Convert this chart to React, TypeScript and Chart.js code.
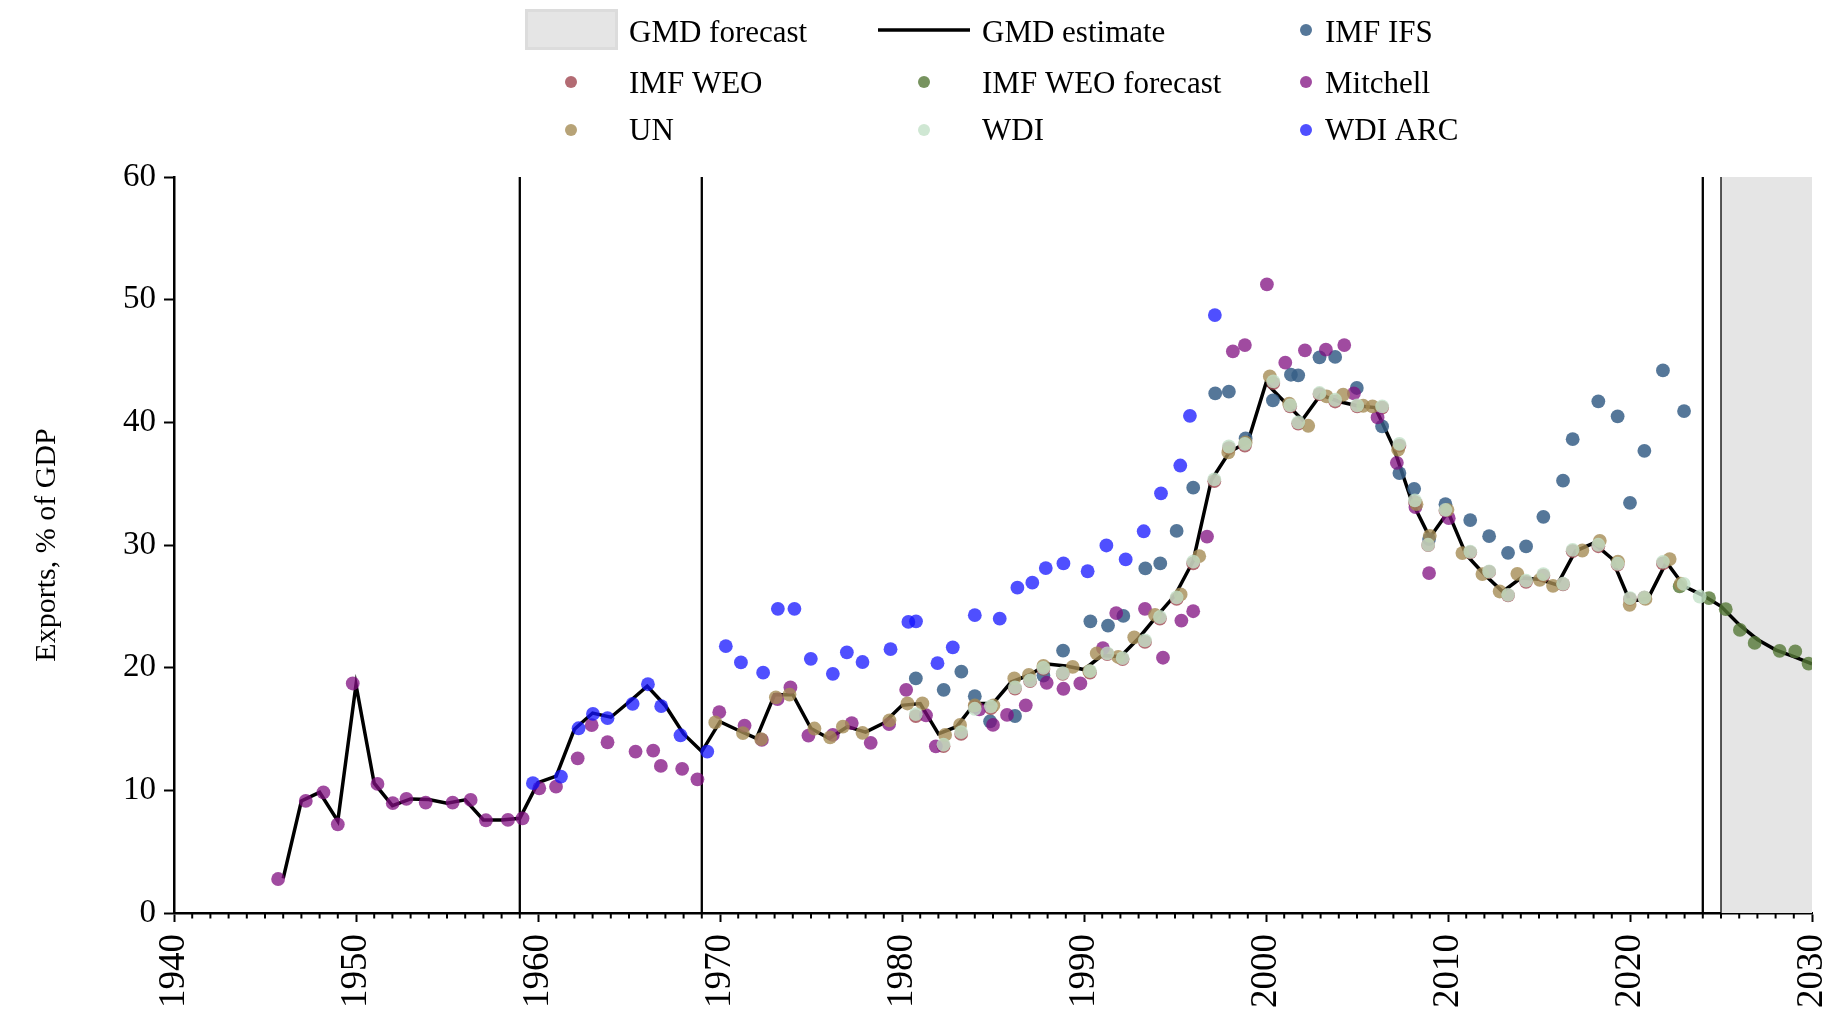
import React, { useEffect, useRef } from "react";
import { Chart, registerables } from "chart.js";

Chart.register(...registerables);

// ---------- data ----------
const gmdYears = [
  1946, 1947, 1948, 1949, 1950, 1951, 1952, 1953, 1954, 1955, 1956, 1957, 1958, 1959,
  1960, 1961, 1962, 1963, 1964, 1965, 1966, 1967, 1968, 1969,
  1970, 1971, 1972, 1973, 1974, 1975, 1976, 1977, 1978, 1979,
  1980, 1981, 1982, 1983, 1984, 1985, 1986, 1987, 1988, 1989,
  1990, 1991, 1992, 1993, 1994, 1995, 1996, 1997, 1998, 1999,
  2000, 2001, 2002, 2003, 2004, 2005, 2006, 2007, 2008, 2009,
  2010, 2011, 2012, 2013, 2014, 2015, 2016, 2017, 2018, 2019,
  2020, 2021, 2022, 2023, 2024, 2025, 2026, 2027, 2028, 2029, 2030,
];
const gmdValues = [
  2.83, 9.14, 9.84, 7.5, 18.6, 10.58, 8.75, 9.3, 9.25, 8.95, 9.22, 7.59, 7.59, 7.72,
  10.62, 11.16, 14.98, 16.3, 15.96, 17.2, 18.5, 16.9, 14.6, 13.16,
  15.6, 14.9, 14.23, 17.8, 17.8, 15.04, 14.23, 15.19, 14.75, 15.48,
  16.93, 17.08, 14.61, 15.19, 17.08, 17.08, 18.83, 19.41, 20.29, 20.14,
  19.85, 21.0, 20.9, 22.4, 24.2, 25.9, 28.7, 35.3, 37.6, 38.4,
  43.2, 41.7, 40.2, 42.25, 41.7, 41.35, 41.2, 38.0, 33.6, 30.6,
  32.7, 29.2, 27.6, 26.2, 27.3, 27.2, 26.75, 29.5, 30.15, 28.9,
  25.4, 25.67, 28.6, 26.6, 25.9, 25.0, 23.5, 22.3, 21.45, 20.9, 20.3,
];

const ifsYears = [
  1980.76, 1982.29, 1983.26, 1984.0, 1984.84, 1986.21, 1987.77, 1988.85, 1990.35, 1991.32,
  1992.16, 1993.37, 1994.19, 1995.09, 1996.0, 1997.21, 1997.96, 1998.88, 2000.38, 2001.37,
  2001.77, 2002.94, 2003.8, 2004.99, 2006.38, 2007.33, 2008.14, 2008.96, 2009.86, 2011.22,
  2012.26, 2013.3, 2014.29, 2015.24, 2016.32, 2016.85, 2018.26, 2019.32, 2020.0, 2020.79,
  2021.81, 2022.97,
];
const ifsValues = [
  19.12, 18.19, 19.67, 17.67, 15.63, 16.06, 19.36, 21.39, 23.78, 23.43,
  24.22, 28.09, 28.5, 31.15, 34.67, 42.36, 42.5, 38.69, 41.79, 43.88,
  43.83, 45.3, 45.33, 42.8, 39.67, 35.86, 34.58, 30.48, 33.33, 32.03,
  30.72, 29.36, 29.88, 32.3, 35.24, 38.63, 41.71, 40.49, 33.44, 37.68,
  44.23, 40.92,
];

const weoYears = [
  1980.76, 1982.28, 1983.25, 1984.0, 1984.88, 1986.21, 1987.04, 1987.77, 1988.83, 1990.33,
  1991.28, 1992.12, 1993.35, 1994.17, 1995.09, 1996.0, 1997.16, 1997.96, 1998.84, 2000.4,
  2001.33, 2001.77, 2002.94, 2003.8, 2005.01, 2006.38, 2007.33, 2008.18, 2008.91, 2009.86,
  2011.22, 2012.26, 2013.3, 2014.29, 2015.24, 2016.32, 2016.85, 2018.26, 2019.32, 2020.0,
  2020.79, 2021.81,
];
const weoValues = [
  16.05, 13.6, 14.6, 16.8, 16.7, 18.3, 18.9, 19.9, 19.5, 19.6,
  21.1, 20.7, 22.1, 24.0, 25.6, 28.5, 35.2, 37.9, 38.1, 43.2,
  41.3, 39.9, 42.3, 41.7, 41.3, 41.2, 38.1, 33.5, 30.0, 32.8,
  29.4, 27.8, 25.9, 27.0, 27.5, 26.8, 29.5, 29.9, 28.4, 25.6,
  25.7, 28.5,
];

const weoForecastYears = [2022.73, 2024.34, 2025.26, 2026.04, 2026.85, 2028.22, 2029.08, 2029.81];
const weoForecastValues = [26.62, 25.67, 24.77, 23.08, 22.02, 21.37, 21.32, 20.33];

const mitchellYears = [
  1945.72, 1947.24, 1948.21, 1949.0, 1949.82, 1951.18, 1952.02, 1952.77, 1953.83, 1955.31,
  1956.3, 1957.14, 1958.35, 1959.15, 1960.07, 1960.99, 1962.18, 1962.95, 1963.82, 1965.36,
  1966.33, 1966.75, 1967.92, 1968.76, 1969.96, 1971.35, 1972.3, 1973.16, 1973.87, 1974.86,
  1976.2, 1977.24, 1978.28, 1979.29, 1980.23, 1981.32, 1981.86, 1984.25, 1985.0, 1985.77,
  1986.8, 1987.95, 1988.87, 1989.8, 1991.04, 1991.77, 1993.35, 1994.34, 1995.35, 1996.0,
  1996.76, 1998.18, 1998.84, 2000.05, 2001.06, 2002.14, 2003.29, 2004.3, 2004.83, 2006.13,
  2007.19, 2008.21, 2008.96, 2010.04,
];
const mitchellValues = [
  2.77, 9.14, 9.84, 7.23, 18.71, 10.52, 8.95, 9.3, 9.0, 9.0,
  9.22, 7.56, 7.59, 7.72, 10.17, 10.3, 12.61, 15.31, 13.92, 13.16,
  13.24, 11.99, 11.75, 10.9, 16.37, 15.28, 14.11, 17.43, 18.39, 14.46,
  14.52, 15.48, 13.87, 15.39, 18.19, 16.12, 13.59, 16.6, 15.33, 16.15,
  16.93, 18.77, 18.28, 18.71, 21.6, 24.45, 24.8, 20.81, 23.84, 24.6,
  30.69, 45.78, 46.3, 51.25, 44.86, 45.87, 45.92, 46.3, 42.36, 40.4,
  36.7, 33.09, 27.71, 32.19,
];

const unYears = [
  1969.74, 1971.26, 1972.26, 1973.07, 1973.82, 1975.19, 1976.05, 1976.75, 1977.83, 1979.31,
  1980.3, 1981.12, 1982.37, 1983.19, 1984.0, 1985.02, 1986.17, 1986.97, 1987.77, 1989.38,
  1990.29, 1990.7, 1991.88, 1992.76, 1993.9, 1995.31, 1996.33, 1997.93, 1998.88, 2000.21,
  2001.27, 2002.32, 2003.33, 2004.24, 2005.34, 2005.85, 2007.26, 2008.27, 2009.0, 2009.97,
  2010.79, 2011.89, 2012.84, 2013.81, 2015.04, 2015.77, 2017.38, 2018.34, 2019.34, 2019.98,
  2020.85, 2022.18, 2022.78,
];
const unValues = [
  15.54, 14.67, 14.17, 17.58, 17.81, 15.04, 14.31, 15.19, 14.69, 15.71,
  17.08, 17.08, 14.52, 15.33, 16.93, 16.93, 19.12, 19.41, 20.14, 20.06,
  19.71, 21.16, 20.87, 22.47, 24.31, 25.97, 29.09, 37.55, 38.36, 43.74,
  41.52, 39.72, 42.11, 42.25, 41.35, 41.3, 37.77, 33.33, 30.75, 32.87,
  29.34, 27.63, 26.21, 27.65, 27.16, 26.67, 29.55, 30.34, 28.65, 25.12,
  25.6, 28.85, 26.84,
];

const wdiYears = [
  1980.76, 1982.28, 1983.25, 1984.0, 1984.88, 1986.21, 1987.04, 1987.77, 1988.83, 1990.33,
  1991.28, 1992.12, 1993.35, 1994.17, 1995.09, 1996.0, 1997.16, 1997.96, 1998.84, 2000.4,
  2001.33, 2001.77, 2002.94, 2003.8, 2005.01, 2006.38, 2007.33, 2008.18, 2008.91, 2009.86,
  2011.22, 2012.26, 2013.3, 2014.29, 2015.24, 2016.32, 2016.85, 2018.26, 2019.32, 2020.0,
  2020.79, 2021.81, 2022.95, 2023.83,
];
const wdiValues = [
  16.21, 13.73, 14.75, 16.65, 16.85, 18.39, 18.97, 19.99, 19.56, 19.71,
  21.16, 20.78, 22.23, 24.13, 25.73, 28.65, 35.35, 38.03, 38.25, 43.34,
  41.38, 39.99, 42.39, 41.84, 41.38, 41.3, 38.25, 33.63, 30.02, 32.87,
  29.45, 27.84, 25.94, 27.1, 27.63, 26.84, 29.61, 30.02, 28.47, 25.67,
  25.72, 28.63, 26.83, 25.8,
];

const wdiArcYears = [
  1959.72, 1961.26, 1962.23, 1963.02, 1963.82, 1965.2, 1966.04, 1966.77, 1967.83, 1969.3,
  1970.32, 1971.15, 1972.37, 1973.18, 1974.09, 1974.99, 1976.2, 1976.97, 1977.83, 1979.37,
  1980.35, 1980.77, 1981.95, 1982.79, 1984.0, 1985.37, 1986.34, 1987.16, 1987.9, 1988.87,
  1990.2, 1991.23, 1992.29, 1993.28, 1994.23, 1995.29, 1995.82, 1997.19,
];
const wdiArcValues = [
  10.58, 11.12, 15.06, 16.23, 15.88, 17.05, 18.65, 16.86, 14.49, 13.16,
  21.75, 20.43, 19.59, 24.8, 24.8, 20.72, 19.5, 21.25, 20.46, 21.51,
  23.73, 23.78, 20.37, 21.66, 24.28, 23.99, 26.52, 26.93, 28.12, 28.5,
  27.86, 29.96, 28.82, 31.12, 34.21, 36.48, 40.53, 48.74,
];

const regimeLines = [1959, 1969, 2024];
const forecastStart = 2025;
const forecastEnd = 2030;
const xTickLabels = [1940, 1950, 1960, 1970, 1980, 1990, 2000, 2010, 2020, 2030];
const yTickLabels = [0, 10, 20, 30, 40, 50, 60];

// ---------- styles ----------
const FONT = '"Liberation Serif", "Times New Roman", serif';
const C = {
  ifs: "rgba(55,95,135,0.85)",
  weo: "rgba(160,70,80,0.8)",
  weoF: "rgba(85,120,55,0.8)",
  mitchell: "rgba(128,15,128,0.75)",
  un: "rgba(165,140,85,0.8)",
  wdi: "rgba(195,225,200,0.8)",
  arc: "rgba(20,20,255,0.75)",
  shade: "#e5e5e5",
};

const pts = (xs: number[], ys: number[]) => xs.map((x, i) => ({ x, y: ys[i] }));

const scatter = (label: string, xs: number[], ys: number[], color: string, order: number) => ({
  type: "scatter" as const,
  label,
  data: pts(xs, ys),
  backgroundColor: color,
  borderWidth: 0,
  pointRadius: 6.9,
  pointHoverRadius: 6.9,
  showLine: false,
  order,
});

const legendItems = [
  { kind: "box", label: "GMD forecast", color: C.shade, col: 0, row: 0 },
  { kind: "line", label: "GMD estimate", color: "#000", col: 1, row: 0 },
  { kind: "dot", label: "IMF IFS", color: C.ifs, col: 2, row: 0 },
  { kind: "dot", label: "IMF WEO", color: C.weo, col: 0, row: 1 },
  { kind: "dot", label: "IMF WEO forecast", color: C.weoF, col: 1, row: 1 },
  { kind: "dot", label: "Mitchell", color: C.mitchell, col: 2, row: 1 },
  { kind: "dot", label: "UN", color: C.un, col: 0, row: 2 },
  { kind: "dot", label: "WDI", color: C.wdi, col: 1, row: 2 },
  { kind: "dot", label: "WDI ARC", color: C.arc, col: 2, row: 2 },
];

const backgroundPlugin = {
  id: "bgShapes",
  beforeDatasetsDraw(chart: any) {
    const { ctx, chartArea, scales } = chart;
    const x = scales.x;
    ctx.save();
    const x0 = x.getPixelForValue(forecastStart);
    const x1 = x.getPixelForValue(forecastEnd);
    ctx.fillStyle = C.shade;
    ctx.fillRect(x0, chartArea.top, x1 - x0, chartArea.bottom - chartArea.top);
    ctx.strokeStyle = "#000";
    ctx.lineWidth = 1.3;
    ctx.beginPath();
    ctx.moveTo(x0, chartArea.top);
    ctx.lineTo(x0, chartArea.bottom);
    ctx.stroke();
    ctx.lineWidth = 2.3;
    regimeLines.forEach((yr) => {
      const px = x.getPixelForValue(yr);
      ctx.beginPath();
      ctx.moveTo(px, chartArea.top);
      ctx.lineTo(px, chartArea.bottom);
      ctx.stroke();
    });
    ctx.restore();
  },
  afterDraw(chart: any) {
    const { ctx, scales } = chart;
    const x = scales.x;
    ctx.save();
    // minor ticks every year
    ctx.strokeStyle = "#000";
    ctx.lineWidth = 2;
    for (let yr = 1941; yr < 2030; yr++) {
      if (yr % 10 === 0) continue;
      const px = x.getPixelForValue(yr);
      ctx.beginPath();
      ctx.moveTo(px, x.top);
      ctx.lineTo(px, x.top + 5.5);
      ctx.stroke();
    }
    // legend
    const symX = [571, 924, 1306];
    const textX = [629, 982, 1325];
    const rowY = [30, 82, 130];
    const baseY = [42, 93, 140];
    ctx.font = `31px ${FONT}`;
    ctx.textAlign = "left";
    ctx.textBaseline = "alphabetic";
    legendItems.forEach((it) => {
      const cx = symX[it.col];
      const cy = rowY[it.row];
      if (it.kind === "box") {
        ctx.fillStyle = "#dcdcdc";
        ctx.fillRect(525, 9, 93, 41);
        ctx.fillStyle = C.shade;
        ctx.fillRect(528, 12, 87, 35);
      } else if (it.kind === "line") {
        ctx.strokeStyle = "#000";
        ctx.lineWidth = 3.5;
        ctx.beginPath();
        ctx.moveTo(878, cy);
        ctx.lineTo(970, cy);
        ctx.stroke();
      } else {
        ctx.fillStyle = it.color;
        ctx.beginPath();
        ctx.arc(cx, cy, 6, 0, Math.PI * 2);
        ctx.fill();
      }
      ctx.fillStyle = "#000";
      ctx.fillText(it.label, textX[it.col], baseY[it.row]);
    });
    ctx.restore();
  },
};

export default function App() {
  const ref = useRef<HTMLCanvasElement | null>(null);
  useEffect(() => {
    if (!ref.current) return;
    const chart = new Chart(ref.current, {
      type: "scatter",
      data: {
        datasets: [
          {
            type: "line" as const,
            label: "GMD estimate",
            data: pts(gmdYears, gmdValues),
            borderColor: "#000",
            borderWidth: 3.5,
            pointRadius: 0,
            fill: false,
            tension: 0,
            order: 9,
          } as any,
          scatter("IMF IFS", ifsYears, ifsValues, C.ifs, 8),
          scatter("IMF WEO", weoYears, weoValues, C.weo, 7),
          scatter("IMF WEO forecast", weoForecastYears, weoForecastValues, C.weoF, 6),
          scatter("Mitchell", mitchellYears, mitchellValues, C.mitchell, 5),
          scatter("UN", unYears, unValues, C.un, 4),
          scatter("WDI", wdiYears, wdiValues, C.wdi, 3),
          scatter("WDI ARC", wdiArcYears, wdiArcValues, C.arc, 2),
        ],
      },
      options: {
        responsive: false,
        animation: false,
        events: [],
        layout: { padding: { top: 177, right: 25, left: 0, bottom: 0 } },
        plugins: {
          legend: { display: false },
          tooltip: { enabled: false },
          title: { display: false },
        },
        scales: {
          x: {
            type: "linear",
            min: 1940,
            max: 2030,
            afterFit: (s: any) => {
              s.height = 104;
              s.paddingLeft = 0;
              s.paddingRight = 0;
            },
            afterBuildTicks: (s: any) => {
              s.ticks = xTickLabels.map((v) => ({ value: v }));
            },
            grid: {
              drawOnChartArea: false,
              drawTicks: true,
              tickLength: 9,
              tickWidth: 2,
              tickColor: "#000",
            },
            border: { display: true, color: "#000", width: 2.5 },
            ticks: {
              autoSkip: false,
              maxRotation: 90,
              minRotation: 90,
              padding: 12,
              color: "#000",
              font: { family: FONT, size: 37 },
              callback: (v: any) => String(v),
            },
          },
          y: {
            type: "linear",
            min: 0,
            max: 60,
            afterFit: (s: any) => {
              s.width = 174;
              s.paddingTop = 0;
              s.paddingBottom = 0;
            },
            afterBuildTicks: (s: any) => {
              s.ticks = yTickLabels.map((v) => ({ value: v }));
            },
            grid: {
              drawOnChartArea: false,
              drawTicks: true,
              tickLength: 10,
              tickWidth: 2,
              tickColor: "#000",
            },
            border: { display: true, color: "#000", width: 2.5 },
            ticks: {
              padding: 8,
              color: "#000",
              font: { family: FONT, size: 33 },
              callback: (v: any) => String(v),
            },
            title: {
              display: true,
              text: "Exports, % of GDP",
              color: "#000",
              font: { family: FONT, size: 30 },
              padding: { top: 29, bottom: 0 },
            },
          },
        },
      },
      plugins: [backgroundPlugin],
    });
    return () => chart.destroy();
  }, []);

  return (
    <div style={{ position: "fixed", left: 0, top: 0, width: 1837, height: 1017, background: "#fff" }}>
      <canvas ref={ref} width={1837} height={1017} style={{ display: "block" }} />
    </div>
  );
}
